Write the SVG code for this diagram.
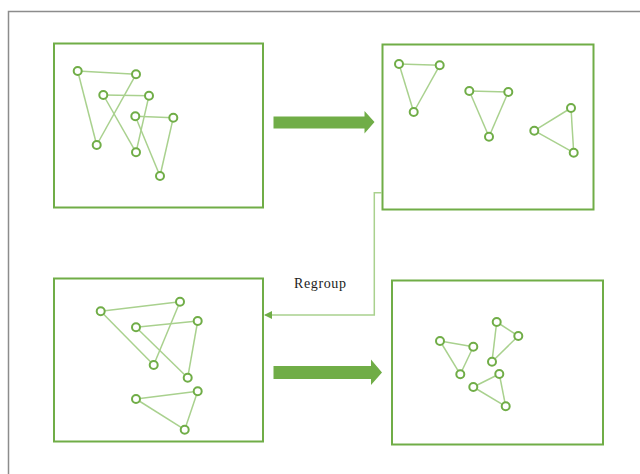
<svg xmlns="http://www.w3.org/2000/svg" width="640" height="474" viewBox="0 0 640 474">
<defs>
<style>
.frame{fill:none;stroke:#8c8c8c;stroke-width:1.5}
.panel{fill:#fff;stroke:#70AD47;stroke-width:2}
.edge{stroke:#A9D18E;stroke-width:1.5;fill:none}
.node{fill:#fff;stroke:#70AD47;stroke-width:2}
.big{fill:#70AD47}
.conn{stroke:#A9D18E;stroke-width:1.5;fill:none}
.lbl{font-family:"Liberation Serif",serif;font-size:14px;fill:#222}
</style>
<marker id="ah" markerWidth="8" markerHeight="8" refX="7" refY="4" orient="auto" markerUnits="userSpaceOnUse">
<path d="M0,0 L8,4 L0,8 Z" fill="#70AD47"/>
</marker>
</defs>
<rect width="640" height="474" fill="#fff"/>
<rect class="frame" x="8.5" y="11.5" width="640" height="470"/>

<g id="panel1">
<rect class="panel" x="54" y="43.5" width="209" height="164"/>
<g class="edge">
<line x1="77.7" y1="71" x2="136" y2="74.3"/><line x1="77.7" y1="71" x2="96.7" y2="145"/><line x1="136" y1="74.3" x2="96.7" y2="145"/>
<line x1="103.3" y1="95" x2="149" y2="95.7"/><line x1="103.3" y1="95" x2="136" y2="152.3"/><line x1="149" y1="95.7" x2="136" y2="152.3"/>
<line x1="135.3" y1="116.3" x2="173.3" y2="117.7"/><line x1="135.3" y1="116.3" x2="160" y2="176"/><line x1="173.3" y1="117.7" x2="160" y2="176"/>
</g>
<g class="node">
<circle cx="77.7" cy="71" r="4"/><circle cx="136" cy="74.3" r="4"/><circle cx="96.7" cy="145" r="4"/>
<circle cx="103.3" cy="95" r="4"/><circle cx="149" cy="95.7" r="4"/><circle cx="136" cy="152.3" r="4"/>
<circle cx="135.3" cy="116.3" r="4"/><circle cx="173.3" cy="117.7" r="4"/><circle cx="160" cy="176" r="4"/>
</g>
</g>

<g id="panel2">
<rect class="panel" x="382.5" y="44.5" width="211" height="165"/>
<g class="edge">
<line x1="399" y1="64" x2="439.7" y2="65.3"/><line x1="399" y1="64" x2="413.7" y2="112"/><line x1="439.7" y1="65.3" x2="413.7" y2="112"/>
<line x1="469.3" y1="91" x2="508.3" y2="92"/><line x1="469.3" y1="91" x2="489" y2="136.7"/><line x1="508.3" y1="92" x2="489" y2="136.7"/>
<line x1="571" y1="108" x2="534.3" y2="130.7"/><line x1="534.3" y1="130.7" x2="573.7" y2="152.7"/><line x1="571" y1="108" x2="573.7" y2="152.7"/>
</g>
<g class="node">
<circle cx="399" cy="64" r="4"/><circle cx="439.7" cy="65.3" r="4"/><circle cx="413.7" cy="112" r="4"/>
<circle cx="469.3" cy="91" r="4"/><circle cx="508.3" cy="92" r="4"/><circle cx="489" cy="136.7" r="4"/>
<circle cx="571" cy="108" r="4"/><circle cx="534.3" cy="130.7" r="4"/><circle cx="573.7" cy="152.7" r="4"/>
</g>
</g>

<g id="panel3">
<rect class="panel" x="54" y="278.5" width="209" height="163"/>
<g class="edge">
<line x1="100.7" y1="311.3" x2="180" y2="301.7"/><line x1="100.7" y1="311.3" x2="153.7" y2="365"/><line x1="180" y1="301.7" x2="153.7" y2="365"/>
<line x1="136" y1="327.3" x2="197.7" y2="321"/><line x1="136" y1="327.3" x2="187.7" y2="377.7"/><line x1="197.7" y1="321" x2="187.7" y2="377.7"/>
<line x1="136" y1="399" x2="197.7" y2="391.3"/><line x1="136" y1="399" x2="184.7" y2="429.7"/><line x1="197.7" y1="391.3" x2="184.7" y2="429.7"/>
</g>
<g class="node">
<circle cx="100.7" cy="311.3" r="4"/><circle cx="180" cy="301.7" r="4"/><circle cx="153.7" cy="365" r="4"/>
<circle cx="136" cy="327.3" r="4"/><circle cx="197.7" cy="321" r="4"/><circle cx="187.7" cy="377.7" r="4"/>
<circle cx="136" cy="399" r="4"/><circle cx="197.7" cy="391.3" r="4"/><circle cx="184.7" cy="429.7" r="4"/>
</g>
</g>

<g id="panel4">
<rect class="panel" x="392" y="280.5" width="211" height="164"/>
<g class="edge">
<line x1="440" y1="341" x2="473.3" y2="346.7"/><line x1="440" y1="341" x2="460.3" y2="374.3"/><line x1="473.3" y1="346.7" x2="460.3" y2="374.3"/>
<line x1="496.7" y1="322" x2="518.3" y2="336"/><line x1="518.3" y1="336" x2="492" y2="361.7"/><line x1="496.7" y1="322" x2="492" y2="361.7"/>
<line x1="499.3" y1="374" x2="473.3" y2="387"/><line x1="473.3" y1="387" x2="505.7" y2="406.3"/><line x1="499.3" y1="374" x2="505.7" y2="406.3"/>
</g>
<g class="node">
<circle cx="440" cy="341" r="4"/><circle cx="473.3" cy="346.7" r="4"/><circle cx="460.3" cy="374.3" r="4"/>
<circle cx="496.7" cy="322" r="4"/><circle cx="518.3" cy="336" r="4"/><circle cx="492" cy="361.7" r="4"/>
<circle cx="499.3" cy="374" r="4"/><circle cx="473.3" cy="387" r="4"/><circle cx="505.7" cy="406.3" r="4"/>
</g>
</g>

<g id="connectors">
<path class="big" d="M273.5,116.5 H364.5 V111 L374.5,122 L364.5,133.5 V128.5 H273.5 Z"/>
<path class="big" d="M273.5,366 H371 V359.5 L382,372.5 L371,385 V379 H273.5 Z"/>
<path class="conn" d="M382,192.7 H374.3 V315 H265" marker-end="url(#ah)"/>
<text class="lbl" x="294" y="287.5" textLength="52">Regroup</text>
</g>
</svg>
